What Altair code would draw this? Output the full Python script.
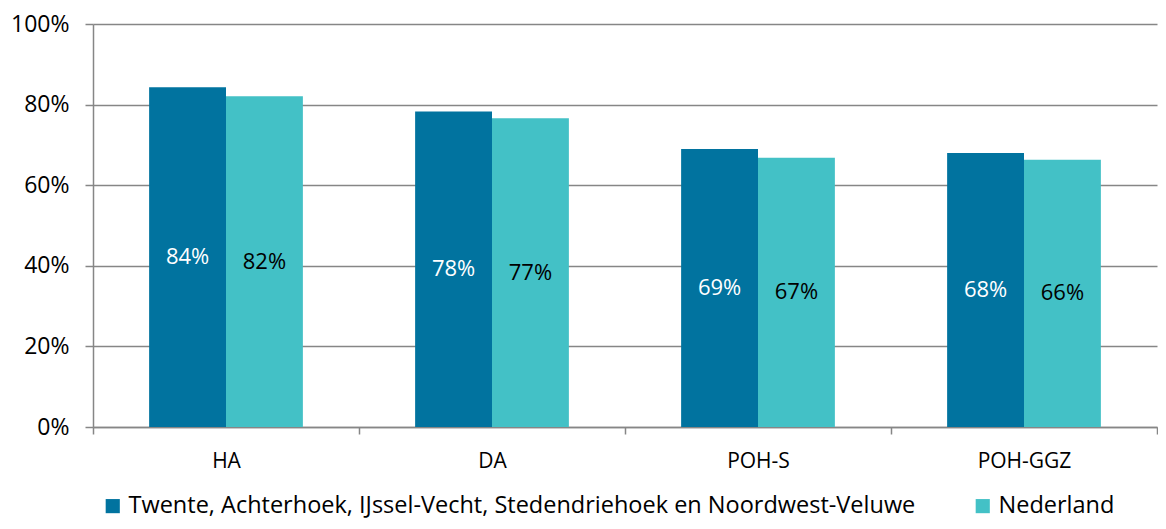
import altair as alt
import pandas as pd

categories = ["HA", "DA", "POH-S", "POH-GGZ"]
series = ["Twente, Achterhoek, IJssel-Vecht, Stedendriehoek en Noordwest-Veluwe", "Nederland"]
regio_values = [0.843, 0.783, 0.690, 0.680]
nl_values = [0.821, 0.766, 0.668, 0.663]
regio_labels = ["84%", "78%", "69%", "68%"]
nl_labels = ["82%", "77%", "67%", "66%"]
colors = ["#01739F", "#43C1C6"]
label_colors = ["white", "black"]

rows = []
for i, c in enumerate(categories):
    rows.append({"cat": c, "serie": series[0], "value": regio_values[i], "label": regio_labels[i], "lc": label_colors[0]})
    rows.append({"cat": c, "serie": series[1], "value": nl_values[i], "label": nl_labels[i], "lc": label_colors[1]})
df = pd.DataFrame(rows)
df["half"] = df["value"] / 2

FONT = "Open Sans"

x = alt.X("cat:N", sort=categories, title=None,
          scale=alt.Scale(paddingInner=0, paddingOuter=0),
          axis=alt.Axis(tickBand="extent", labelFontSize=21, labelColor="#000000", labelFont=FONT,
                        domainColor="#868686", tickColor="#868686", tickSize=7, labelPadding=16,
                        labelAngle=0, grid=False, domainWidth=1.5, tickWidth=1.5))
xoff = alt.XOffset("serie:N", sort=series, scale=alt.Scale(paddingInner=0, paddingOuter=0.73))

bars = alt.Chart(df).mark_bar().encode(
    x=x,
    xOffset=xoff,
    y=alt.Y("value:Q", title=None,
            scale=alt.Scale(domain=[0, 1]),
            axis=alt.Axis(format=".0%", values=[0, 0.2, 0.4, 0.6, 0.8, 1.0], labelFontSize=23,
                          labelColor="#000000", labelFont=FONT, gridColor="#868686", gridWidth=1.5,
                          domainColor="#868686", tickColor="#868686", tickSize=8, labelPadding=16,
                          domainWidth=1.5, tickWidth=1.5)),
    color=alt.Color("serie:N", sort=series, scale=alt.Scale(domain=series, range=colors),
                    legend=alt.Legend(title=None, orient="none", legendX=8, legendY=470,
                                      direction="horizontal", symbolType="square", symbolSize=200,
                                      symbolStrokeWidth=0, labelFontSize=23.5, labelFont=FONT,
                                      labelColor="#000000", columnPadding=55, labelLimit=1000,
                                      labelOffset=4)),
)

text = alt.Chart(df).mark_text(fontSize=22, font=FONT, baseline="middle", align="center").encode(
    x=alt.X("cat:N", sort=categories),
    xOffset=xoff,
    y=alt.Y("half:Q"),
    text="label:N",
    color=alt.Color("lc:N", scale=None),
)

chart = alt.layer(bars, text).properties(
    width=1064, height=403,
    autosize=alt.AutoSizeParams(type="none"),
    padding={"left": 85, "top": 16, "right": 1, "bottom": 94},
).configure_view(stroke=None)

chart.save("out.html", embed_options={"renderer": "svg", "actions": False})
